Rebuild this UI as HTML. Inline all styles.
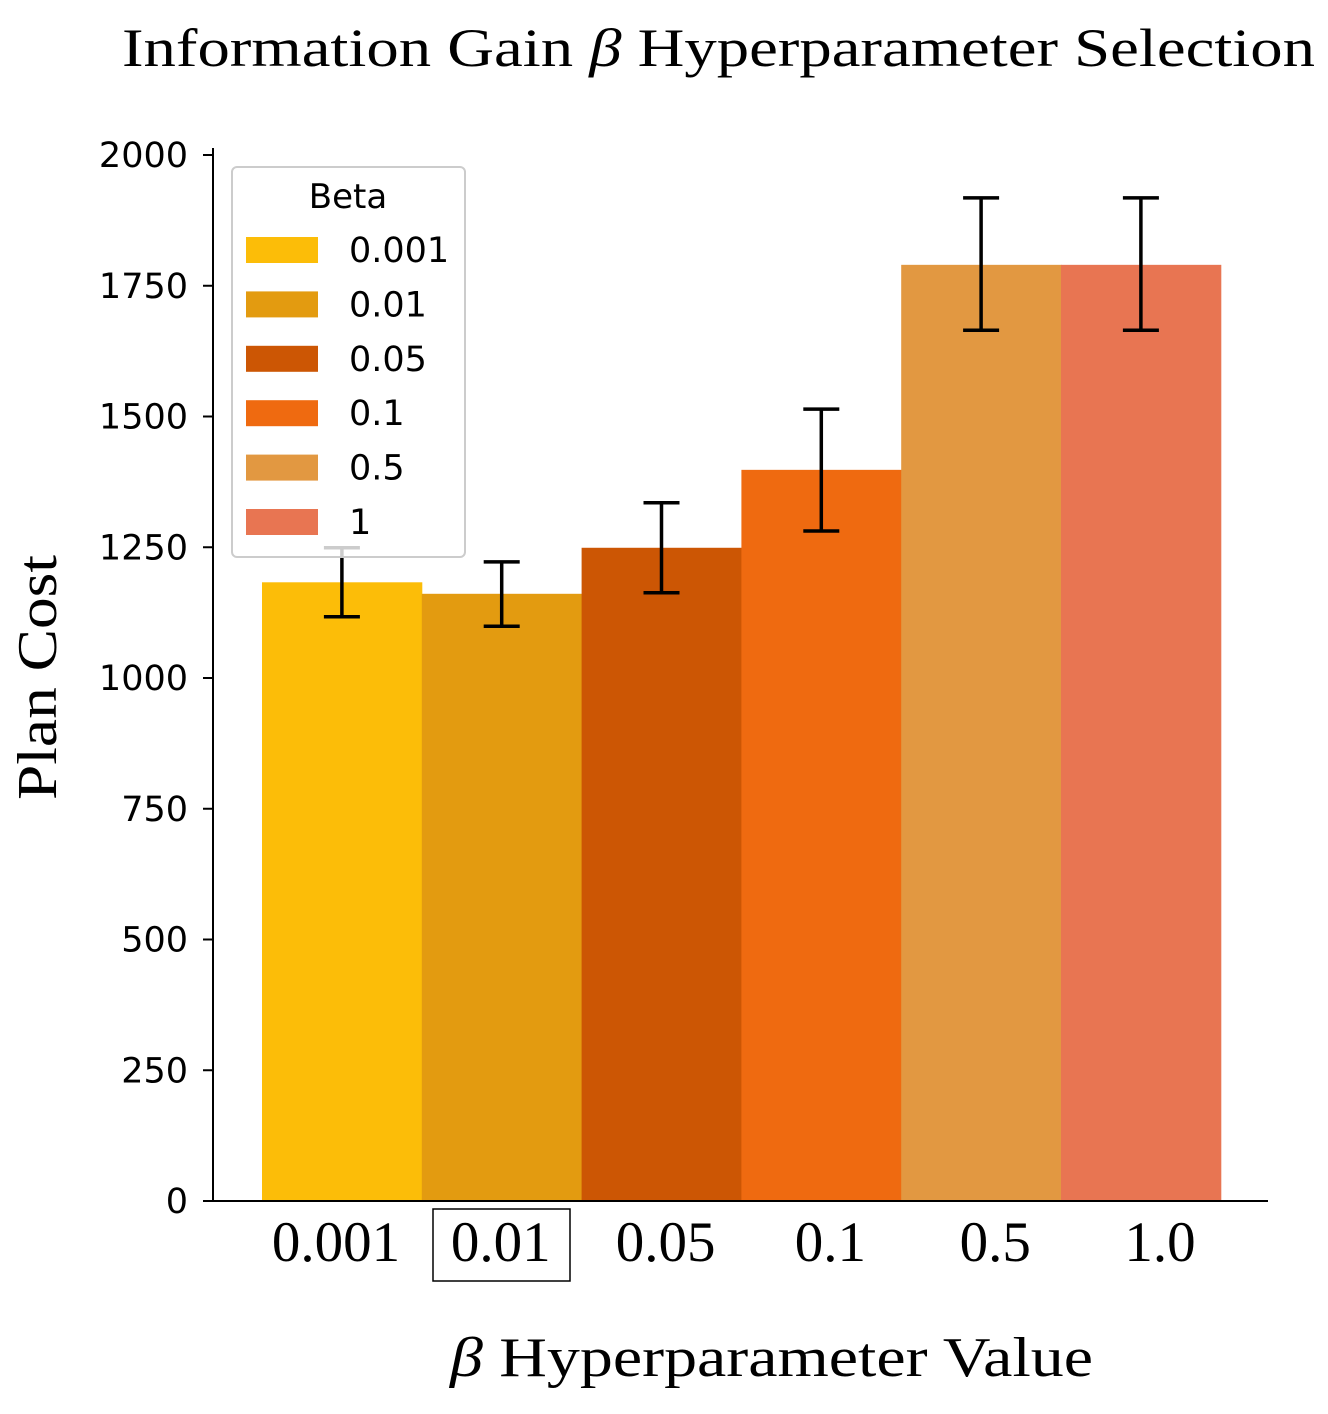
<!DOCTYPE html>
<html><head><meta charset="utf-8"><style>body{margin:0;background:#fff}svg{display:block}</style></head>
<body>
<svg id="chart" width="1328" height="1414" xmlns="http://www.w3.org/2000/svg">
<text x="122" y="66" textLength="1193" lengthAdjust="spacingAndGlyphs" font-family="Liberation Serif, serif" font-size="54">Information Gain <tspan font-style="italic">β</tspan> Hyperparameter Selection</text>
<text transform="translate(56,800) rotate(-90)" textLength="245" lengthAdjust="spacingAndGlyphs" font-family="Liberation Serif, serif" font-size="56">Plan Cost</text>
<text x="450" y="1376" textLength="643" lengthAdjust="spacingAndGlyphs" font-family="Liberation Serif, serif" font-size="56"><tspan font-style="italic">β</tspan> Hyperparameter Value</text>
<g id="bars"></g><g id="errs"></g><g id="axes"></g><g id="legend"></g>
</svg>
<script>
const categories=["0.001","0.01","0.05","0.1","0.5","1.0"];
const legendLabels=["0.001","0.01","0.05","0.1","0.5","1"];
const values=[1183,1161,1249,1398,1790,1790];
const errLow=[1117,1099,1163,1281,1665,1665];
const errHigh=[1249,1222,1335,1514,1918,1918];
const yTicks=[0,250,500,750,1000,1250,1500,1750,2000];
const colors=["#FCBD08","#E39B10","#CC5604","#EF6A10","#E29841","#E87552"];
const NS="http://www.w3.org/2000/svg";
const y0=1201,y1=155,x0=262,bw=159.8;
const Y=v=>y0-(v/2000)*(y0-y1);
const X=i=>x0+i*bw;
const LX=i=>336+i*164.8;
function mk(p,tag,a){const e=document.createElementNS(NS,tag);for(const k in a)e.setAttribute(k,a[k]);document.getElementById(p).appendChild(e);return e;}
values.forEach((v,i)=>{
 const r=mk("bars","rect",{x:X(i),y:Y(v),width:bw+0.5,height:y0-Y(v),fill:colors[i]});
 
 
 const cx=X(i)+bw/2;
 const g=mk("errs","path",{d:`M${cx},${Y(errLow[i])}V${Y(errHigh[i])}M${cx-18},${Y(errLow[i])}h36M${cx-18},${Y(errHigh[i])}h36`,stroke:"#000","stroke-width":3.5,fill:"none"});
 
 
 const t=mk("axes","text",{x:LX(i),y:1261,"text-anchor":"middle","font-family":"Liberation Serif, serif","font-size":57});
 t.textContent=categories[i];
 
 
});
const bx=mk("axes","rect",{x:433,y:1209,width:137,height:72,fill:"none",stroke:"#000","stroke-width":1.5});


const ax=mk("axes","path",{d:"M213,148V1201H1268",stroke:"#000","stroke-width":2,fill:"none"});


yTicks.forEach(v=>{
 const tk=mk("axes","line",{x1:203,x2:213,y1:Y(v),y2:Y(v),stroke:"#000","stroke-width":2});
 
 
 const t=mk("axes","text",{x:188,y:Y(v)+12,"text-anchor":"end","font-family":"DejaVu Sans, sans-serif","font-size":35});
 t.textContent=v;
 
 
});
const lb=mk("legend","rect",{x:232,y:167,width:233,height:390,rx:5,fill:"#fff","fill-opacity":0.8,stroke:"#ccc","stroke-width":2});


const lt=mk("legend","text",{x:348,y:208,"text-anchor":"middle","font-family":"DejaVu Sans, sans-serif","font-size":34});
lt.textContent="Beta";


legendLabels.forEach((l,i)=>{
 const cy=250+i*54.4;
 const p=mk("legend","rect",{x:246,y:cy-13,width:72,height:26,fill:colors[i]});
 
 
 const t=mk("legend","text",{x:349,y:cy+12,"font-family":"DejaVu Sans, sans-serif","font-size":35});
 t.textContent=l;
 
 
});
</script>
</body></html>
